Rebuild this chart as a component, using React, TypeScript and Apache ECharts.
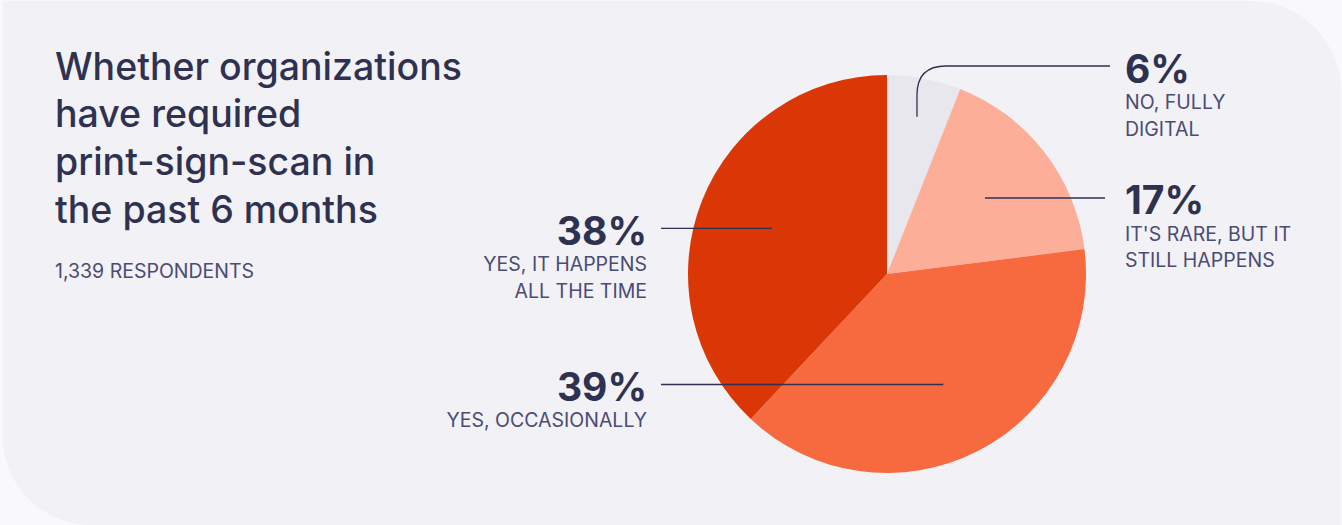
import React, { useEffect, useRef } from "react";
import * as echarts from "echarts";

const titleLines = ["Whether organizations", "have required", "print-sign-scan in", "the past 6 months"];
const subtitle = "1,339 RESPONDENTS";
const categories = ["NO, FULLY DIGITAL", "IT'S RARE, BUT IT STILL HAPPENS", "YES, OCCASIONALLY", "YES, IT HAPPENS ALL THE TIME"];
const labelLines = [["NO, FULLY", "DIGITAL"], ["IT'S RARE, BUT IT", "STILL HAPPENS"], ["YES, OCCASIONALLY"], ["YES, IT HAPPENS", "ALL THE TIME"]];
const labelSides = ["right", "right", "left", "left"];
const values = [6, 17, 39, 38];
const colors = ["#e8e7ee", "#fdae98", "#f76a40", "#da3606"];

const W = 1342;
const H = 525;
const CX = 887;
const CY = 274;
const R = 199;
const DARK = "#2f3150";
const MUTED = "#4b4c72";
const FONT = "Inter, 'Noto Sans', sans-serif";

function buildGraphics(): any[] {
  const g: any[] = [];
  g.push({
    type: "rect",
    z: -100,
    shape: { x: 3, y: 1, width: 1338, height: 524, r: [4, 90, 0, 88] },
    style: { fill: "#f2f1f6" },
    silent: true,
  });
  titleLines.forEach((t, i) => {
    g.push({
      type: "text",
      z: 100,
      x: 55,
      y: 66 + i * 47.7,
      style: { text: t, fill: DARK, font: `500 37.5px ${FONT}`, textVerticalAlign: "middle", textAlign: "left" },
    });
  });
  g.push({
    type: "text",
    z: 100,
    x: 55,
    y: 271,
    style: { text: subtitle, fill: MUTED, font: `400 19.5px ${FONT}`, textVerticalAlign: "middle", textAlign: "left" },
  });

  const total = values.reduce((a, b) => a + b, 0);
  let acc = 0;
  values.forEach((v, i) => {
    const mid = ((acc + v / 2) / total) * Math.PI * 2;
    acc += v;
    const isFirst = i === 0;
    const rr = isFirst ? 160 : 124;
    const sx = CX + rr * Math.sin(mid);
    const sy = CY - rr * Math.cos(mid);
    const right = labelSides[i] === "right";
    const lineStyle = { stroke: DARK, lineWidth: 1.3, fill: "none" };
    let lineY = sy;
    let tx: number;
    if (isFirst) {
      lineY = 66;
      const rad = 29;
      g.push({ type: "line", z: 100, shape: { x1: sx, y1: sy, x2: sx, y2: lineY + rad }, style: lineStyle });
      g.push({
        type: "bezierCurve",
        z: 100,
        shape: { x1: sx, y1: lineY + rad, cpx1: sx, cpy1: lineY, x2: sx + rad, y2: lineY },
        style: lineStyle,
      });
      g.push({ type: "line", z: 100, shape: { x1: sx + rad, y1: lineY, x2: 1110, y2: lineY }, style: lineStyle });
      tx = 1125;
    } else if (right) {
      g.push({ type: "line", z: 100, shape: { x1: sx, y1: sy, x2: 1105, y2: sy }, style: lineStyle });
      tx = 1125;
    } else {
      g.push({ type: "line", z: 100, shape: { x1: sx, y1: sy, x2: 661, y2: sy }, style: lineStyle });
      tx = 647;
    }
    const align = right ? "left" : "right";
    g.push({
      type: "text",
      z: 100,
      x: tx,
      y: lineY + 2,
      style: { text: `${v}%`, fill: DARK, font: `700 39px ${FONT}`, textVerticalAlign: "middle", textAlign: align },
    });
    labelLines[i].forEach((l, j) => {
      g.push({
        type: "text",
        z: 100,
        x: tx,
        y: lineY + 36 + j * 26.5,
        style: { text: l, fill: MUTED, font: `400 19.5px ${FONT}`, textVerticalAlign: "middle", textAlign: align },
      });
    });
  });
  return g;
}

export default function App() {
  const ref = useRef<HTMLDivElement>(null);
  useEffect(() => {
    document.body.style.margin = "0";
    document.body.style.background = "#f9f9fb";
    if (!ref.current) return;
    const chart = echarts.init(ref.current, undefined, { renderer: "svg" });
    chart.setOption({
      animation: false,
      backgroundColor: "#f9f9fb",
      series: [
        {
          type: "pie",
          center: [CX, CY],
          radius: [0, R],
          startAngle: 90,
          clockwise: true,
          silent: true,
          label: { show: false },
          labelLine: { show: false },
          itemStyle: { borderWidth: 0 },
          z: 2,
          data: values.map((v, i) => ({ name: categories[i], value: v, itemStyle: { color: colors[i] } })),
        },
      ],
      graphic: { elements: buildGraphics() },
    });
    return () => chart.dispose();
  }, []);
  return <div ref={ref} style={{ width: W, height: H }} />;
}
